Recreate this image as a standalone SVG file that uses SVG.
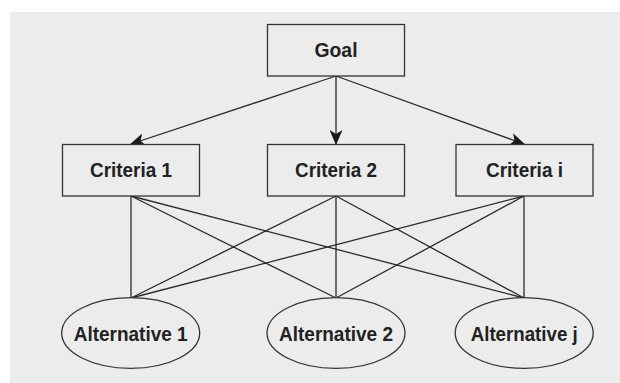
<svg xmlns="http://www.w3.org/2000/svg" width="620" height="383" viewBox="0 0 620 383">
<defs>
<style>
.bg{fill:#ffffff}
.panel{fill:#ececec}
.box{fill:#ececec;stroke:#333333;stroke-width:1.3}
.lbl{font-family:"Liberation Sans",Arial,sans-serif;font-weight:bold;font-size:20px;fill:#222222;text-anchor:middle}
.edge{stroke:#2a2a2a;stroke-width:1.3;fill:none}
</style>
<marker id="arr" viewBox="0 0 15 13" refX="14" refY="6.5" markerWidth="15" markerHeight="13" markerUnits="userSpaceOnUse" orient="auto">
<path d="M0,0 L15,6.5 L0,13 L4,6.5 Z" fill="#1a1a1a"/>
</marker>
</defs>
<rect class="bg" x="0" y="0" width="620" height="383"/>
<rect class="panel" x="10" y="12" width="610" height="371"/>
<g id="connectors">
<line class="edge" x1="336" y1="76" x2="131" y2="144" marker-end="url(#arr)"/>
<line class="edge" x1="336" y1="76" x2="336" y2="144" marker-end="url(#arr)"/>
<line class="edge" x1="336" y1="76" x2="524" y2="144" marker-end="url(#arr)"/>
<line class="edge" x1="131" y1="196" x2="131" y2="298"/>
<line class="edge" x1="131" y1="196" x2="336" y2="298"/>
<line class="edge" x1="131" y1="196" x2="524" y2="298"/>
<line class="edge" x1="336" y1="196" x2="131" y2="298"/>
<line class="edge" x1="336" y1="196" x2="336" y2="298"/>
<line class="edge" x1="336" y1="196" x2="524" y2="298"/>
<line class="edge" x1="524" y1="196" x2="131" y2="298"/>
<line class="edge" x1="524" y1="196" x2="336" y2="298"/>
<line class="edge" x1="524" y1="196" x2="524" y2="298"/>
</g>
<g id="goal">
<rect class="box" x="267.5" y="24.5" width="137" height="51.5"/>
<text class="lbl" x="336" y="57" textLength="43" lengthAdjust="spacingAndGlyphs">Goal</text>
</g>
<g id="criteria1">
<rect class="box" x="62.5" y="144.5" width="137" height="51.5"/>
<text class="lbl" x="131" y="177" textLength="82" lengthAdjust="spacingAndGlyphs">Criteria 1</text>
</g>
<g id="criteria2">
<rect class="box" x="267.5" y="144.5" width="137" height="51.5"/>
<text class="lbl" x="336" y="177" textLength="82" lengthAdjust="spacingAndGlyphs">Criteria 2</text>
</g>
<g id="criteriai">
<rect class="box" x="456" y="144.5" width="137" height="51.5"/>
<text class="lbl" x="524.5" y="177" textLength="77" lengthAdjust="spacingAndGlyphs">Criteria i</text>
</g>
<g id="alternative1">
<ellipse class="box" cx="130.7" cy="333" rx="69" ry="35.3"/>
<text class="lbl" x="130.7" y="340.5" textLength="114" lengthAdjust="spacingAndGlyphs">Alternative 1</text>
</g>
<g id="alternative2">
<ellipse class="box" cx="336" cy="333" rx="69" ry="35.3"/>
<text class="lbl" x="336" y="340.5" textLength="114" lengthAdjust="spacingAndGlyphs">Alternative 2</text>
</g>
<g id="alternativej">
<ellipse class="box" cx="524.2" cy="333" rx="69" ry="35.3"/>
<text class="lbl" x="524.2" y="340.5" textLength="107" lengthAdjust="spacingAndGlyphs">Alternative j</text>
</g>
</svg>
